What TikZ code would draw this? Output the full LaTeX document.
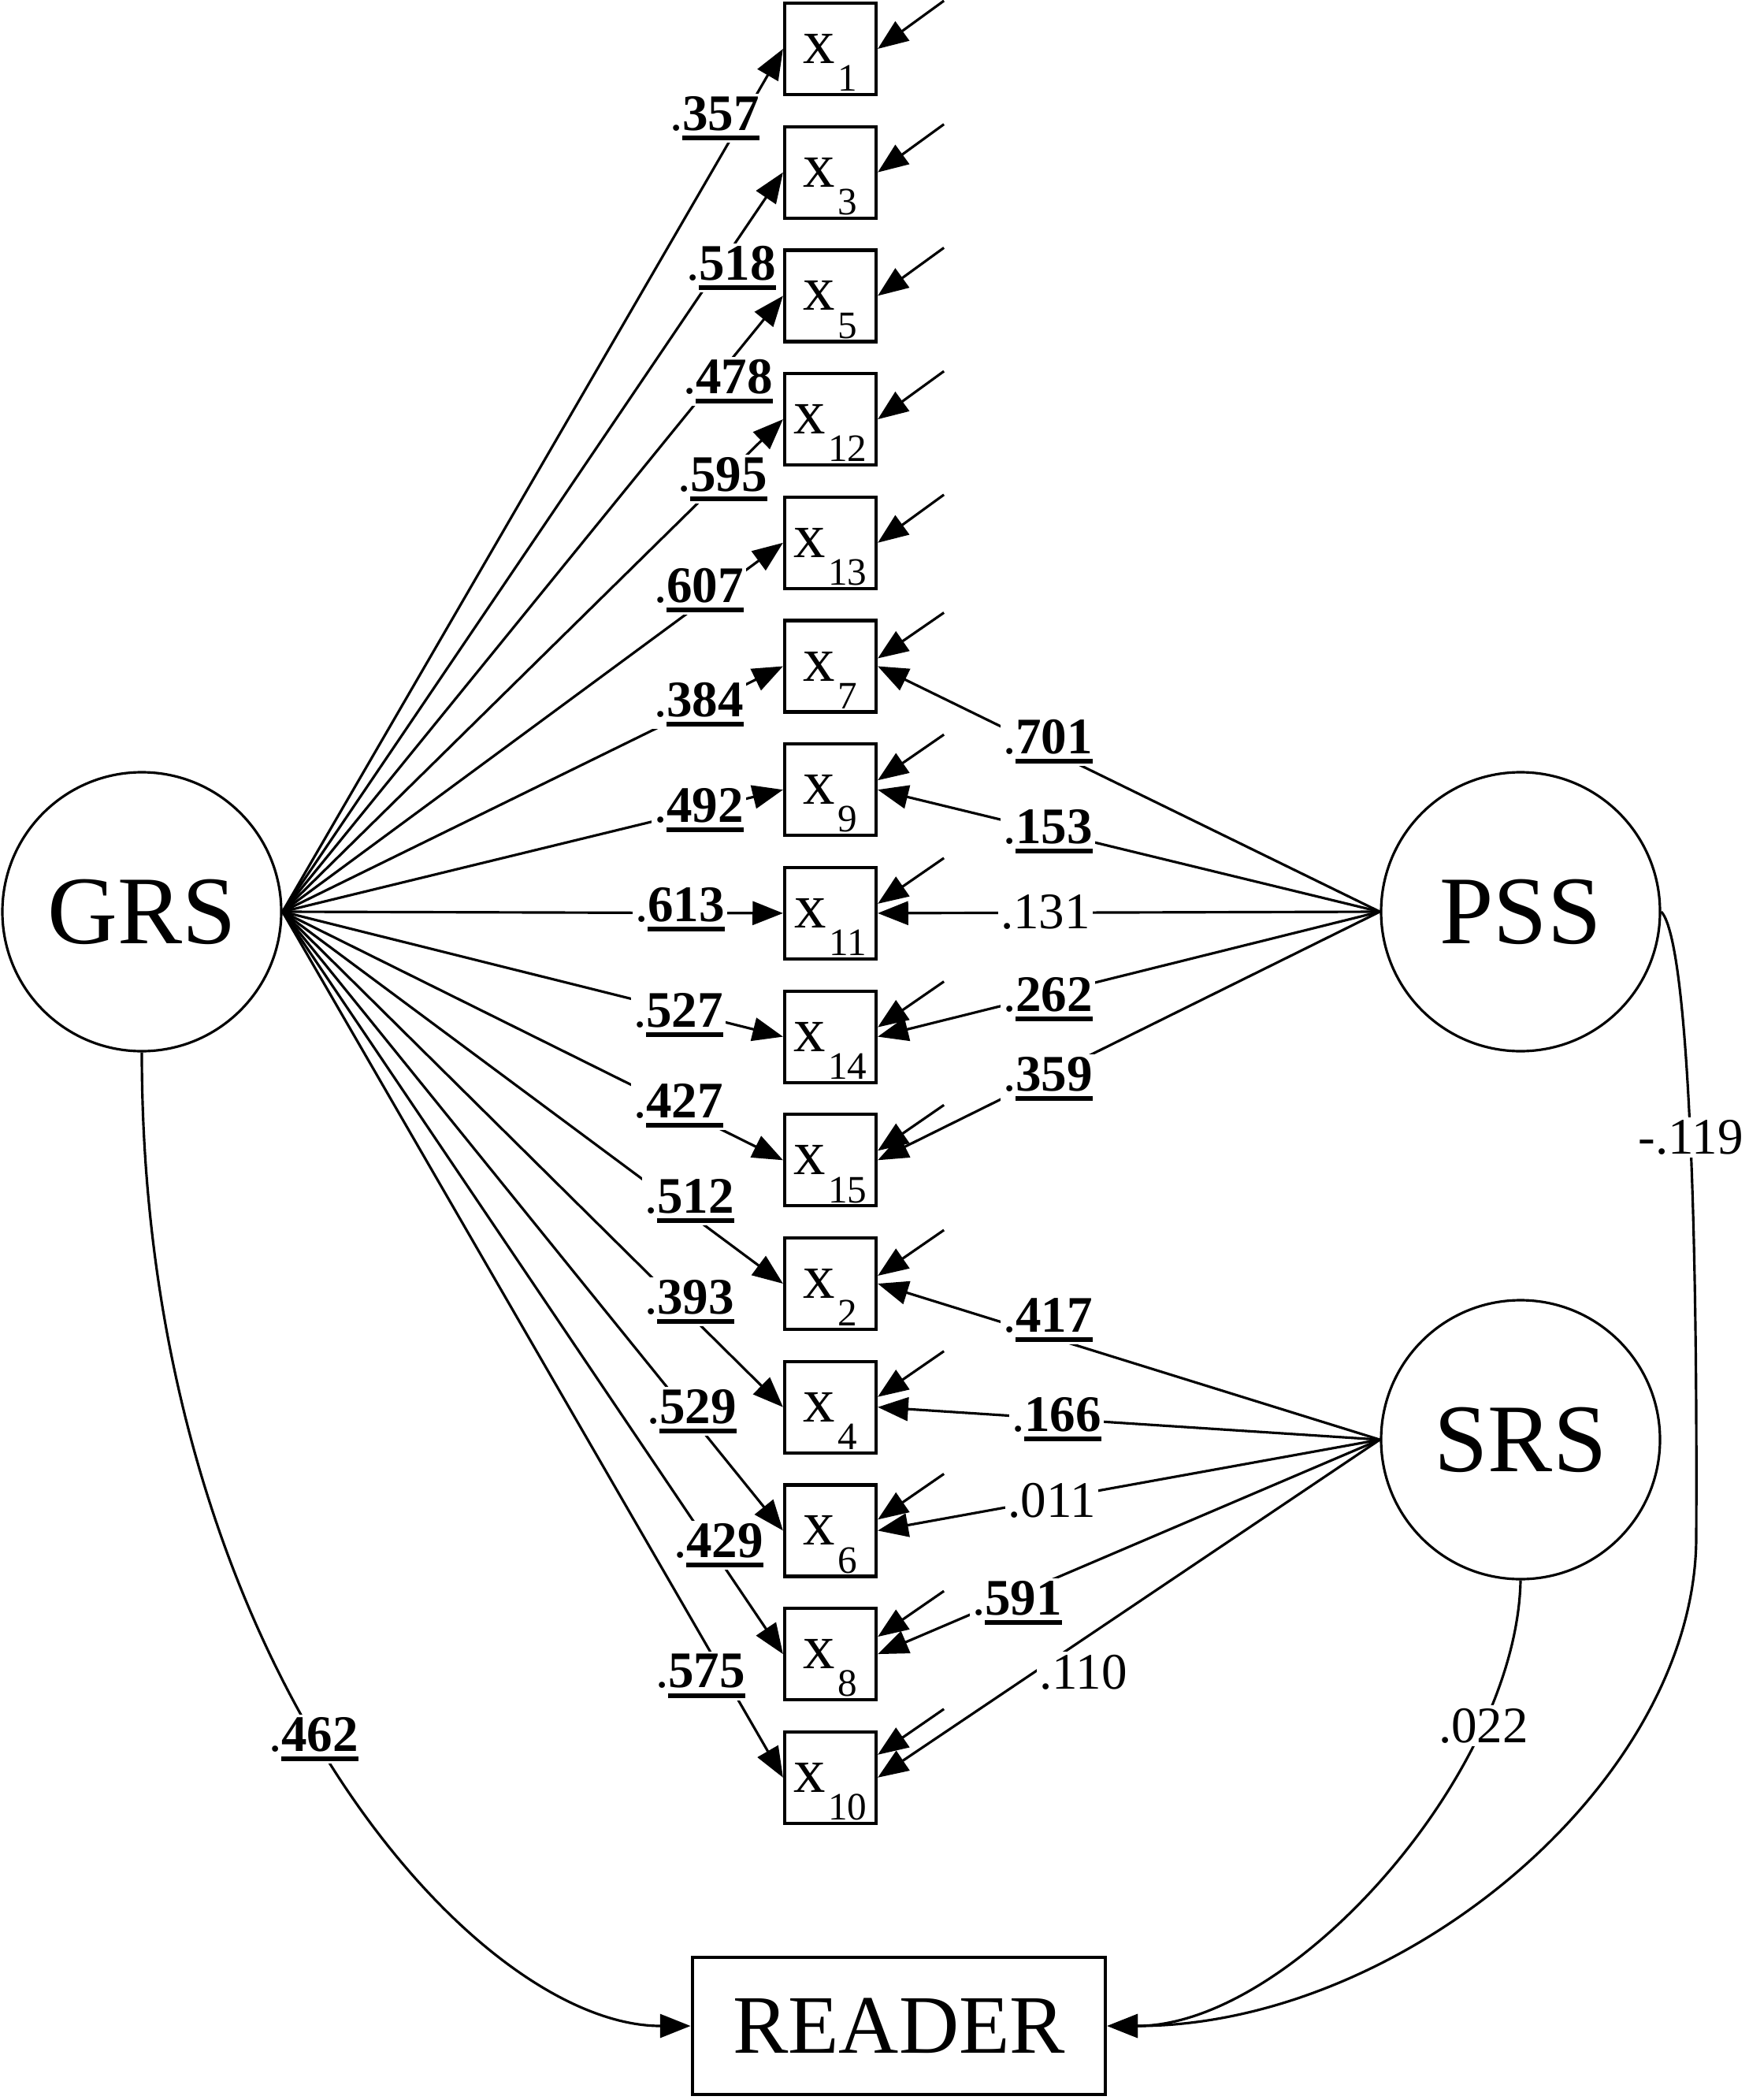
\documentclass[tikz,border=0pt]{standalone}
\usepackage{fontspec}
\setmainfont{Liberation Serif}
\usetikzlibrary{arrows.meta}

% indicator label with a low subscript
\newcommand{\ind}[1]{x\kern1pt\smash{\raisebox{-10pt}{\fontsize{14}{14}\selectfont #1}}}
% significant loading: bold digits with a heavy underline
\newcommand{\sig}[1]{.\setbox0=\hbox{\bfseries #1}\rlap{\rule[-3.6pt]{\wd0}{1.7pt}}\box0}

\tikzset{
  latent/.style={circle, draw, line width=0.9pt, minimum size=3.54cm, inner sep=0pt,
    font=\fontsize{35}{35}\selectfont},
  obs/.style={rectangle, draw, line width=1.2pt, minimum width=1.16cm, minimum height=1.16cm,
    inner sep=0pt, font=\fontsize{23}{23}\selectfont},
  outcome/.style={rectangle, draw, line width=1.4pt, minimum width=5.24cm, minimum height=1.74cm,
    font=\fontsize{30}{30}\selectfont},
  loading/.style={line width=0.9pt, -{Triangle[length=11pt,width=8.5pt]}},
  resid/.style={line width=0.9pt, -{Triangle[length=11pt,width=8.5pt]}},
  coef/.style={fill=white, inner sep=1pt, font=\fontsize{18.5}{18.5}\selectfont},
}

\begin{document}
\begin{tikzpicture}
  \useasboundingbox (0, 0) rectangle (22.19, -26.65);

  % factors and outcome
  \node[latent] (GRS) at (1.80, -11.57) {GRS};
  \node[latent] (PSS) at (19.30, -11.57) {PSS};
  \node[latent] (SRS) at (19.30, -18.27) {SRS};
  \node[outcome] (READER) at (11.41, -25.71) {READER};

  % indicators
  \node[obs] (x1) at (10.54, -0.620) {\ind{1}};
  \node[obs] (x3) at (10.54, -2.187) {\ind{3}};
  \node[obs] (x5) at (10.54, -3.754) {\ind{5}};
  \node[obs] (x12) at (10.54, -5.321) {\ind{12}};
  \node[obs] (x13) at (10.54, -6.888) {\ind{13}};
  \node[obs] (x7) at (10.54, -8.455) {\ind{7}};
  \node[obs] (x9) at (10.54, -10.022) {\ind{9}};
  \node[obs] (x11) at (10.54, -11.589) {\ind{11}};
  \node[obs] (x14) at (10.54, -13.156) {\ind{14}};
  \node[obs] (x15) at (10.54, -14.723) {\ind{15}};
  \node[obs] (x2) at (10.54, -16.290) {\ind{2}};
  \node[obs] (x4) at (10.54, -17.857) {\ind{4}};
  \node[obs] (x6) at (10.54, -19.424) {\ind{6}};
  \node[obs] (x8) at (10.54, -20.991) {\ind{8}};
  \node[obs] (x10) at (10.54, -22.558) {\ind{10}};

  % error terms
  \coordinate (e1) at ([shift={(0.84, 0.61)}]x1.east);
  \coordinate (e3) at ([shift={(0.84, 0.61)}]x3.east);
  \coordinate (e5) at ([shift={(0.84, 0.61)}]x5.east);
  \coordinate (e12) at ([shift={(0.84, 0.61)}]x12.east);
  \coordinate (e13) at ([shift={(0.84, 0.61)}]x13.east);
  \coordinate (e7) at ([shift={(0.84, 0.68)}]x7.east);
  \coordinate (e9) at ([shift={(0.84, 0.70)}]x9.east);
  \coordinate (e11) at ([shift={(0.84, 0.70)}]x11.east);
  \coordinate (e14) at ([shift={(0.84, 0.70)}]x14.east);
  \coordinate (e15) at ([shift={(0.84, 0.70)}]x15.east);
  \coordinate (e2) at ([shift={(0.84, 0.68)}]x2.east);
  \coordinate (e4) at ([shift={(0.84, 0.71)}]x4.east);
  \coordinate (e6) at ([shift={(0.84, 0.72)}]x6.east);
  \coordinate (e8) at ([shift={(0.84, 0.80)}]x8.east);
  \coordinate (e10) at ([shift={(0.84, 0.87)}]x10.east);

  \draw[resid] (e1) -- (x1.east);
  \draw[resid] (e3) -- (x3.east);
  \draw[resid] (e5) -- (x5.east);
  \draw[resid] (e12) -- (x12.east);
  \draw[resid] (e13) -- (x13.east);
  \draw[resid] (e7) -- ([yshift=0.10cm]x7.east);
  \draw[resid] (e9) -- ([yshift=0.12cm]x9.east);
  \draw[resid] (e11) -- ([yshift=0.12cm]x11.east);
  \draw[resid] (e14) -- ([yshift=0.12cm]x14.east);
  \draw[resid] (e15) -- ([yshift=0.12cm]x15.east);
  \draw[resid] (e2) -- ([yshift=0.10cm]x2.east);
  \draw[resid] (e4) -- ([yshift=0.13cm]x4.east);
  \draw[resid] (e6) -- ([yshift=0.14cm]x6.east);
  \draw[resid] (e8) -- ([yshift=0.22cm]x8.east);
  \draw[resid] (e10) -- ([yshift=0.29cm]x10.east);

  % GRS loadings
  \draw[loading] (GRS.east) -- (x1.west);
  \draw[loading] (GRS.east) -- (x3.west);
  \draw[loading] (GRS.east) -- (x5.west);
  \draw[loading] (GRS.east) -- (x12.west);
  \draw[loading] (GRS.east) -- (x13.west);
  \draw[loading] (GRS.east) -- (x7.west);
  \draw[loading] (GRS.east) -- (x9.west);
  \draw[loading] (GRS.east) -- (x11.west);
  \draw[loading] (GRS.east) -- (x14.west);
  \draw[loading] (GRS.east) -- (x15.west);
  \draw[loading] (GRS.east) -- (x2.west);
  \draw[loading] (GRS.east) -- (x4.west);
  \draw[loading] (GRS.east) -- (x6.west);
  \draw[loading] (GRS.east) -- (x8.west);
  \draw[loading] (GRS.east) -- (x10.west);

  % PSS and SRS loadings
  \draw[loading] (PSS.west) -- (x7.east);
  \draw[loading] (PSS.west) -- (x9.east);
  \draw[loading] (PSS.west) -- (x11.east);
  \draw[loading] (PSS.west) -- (x14.east);
  \draw[loading] (PSS.west) -- (x15.east);

  \draw[loading] (SRS.west) -- (x2.east);
  \draw[loading] (SRS.west) -- (x4.east);
  \draw[loading] (SRS.west) -- (x6.east);
  \draw[loading] (SRS.west) -- (x8.east);
  \draw[loading] (SRS.west) -- (x10.east);

  % paths to READER
  \draw[loading] (GRS.south) .. controls (1.80, -21.0) and (6.0, -25.71) .. (READER.west);
  \draw[loading] (PSS.east) .. controls (21.40, -11.9) and (21.55, -15.0) .. (21.53, -19.5)
    .. controls (21.53, -22.6) and (17.8, -25.71) .. (READER.east);
  \draw[loading] (SRS.south) .. controls (19.25, -22.5) and (16.4, -25.71) .. (READER.east);

  % coefficients
  \node[coef] (c357) at (9.07, -1.50) {\sig{357}};
  \node[coef] (c518) at (9.28, -3.40) {\sig{518}};
  \node[coef] (c478) at (9.24, -4.84) {\sig{478}};
  \node[coef] (c595) at (9.17, -6.08) {\sig{595}};
  \node[coef] (c607) at (8.87, -7.49) {\sig{607}};
  \node[coef] (c384) at (8.87, -8.94) {\sig{384}};
  \node[coef] (c492) at (8.87, -10.28) {\sig{492}};
  \node[coef] (c613) at (8.63, -11.54) {\sig{613}};
  \node[coef] (c527) at (8.61, -12.88) {\sig{527}};
  \node[coef] (c427) at (8.61, -14.03) {\sig{427}};
  \node[coef] (c512) at (8.75, -15.24) {\sig{512}};
  \node[coef] (c393) at (8.75, -16.52) {\sig{393}};
  \node[coef] (c529) at (8.78, -17.91) {\sig{529}};
  \node[coef] (c429) at (9.12, -19.61) {\sig{429}};
  \node[coef] (c575) at (8.89, -21.27) {\sig{575}};
  \node[coef] (c462) at (3.98, -22.07) {\sig{462}};

  \node[coef] (c701) at (13.30, -9.41) {\sig{701}};
  \node[coef] (c153) at (13.30, -10.55) {\sig{153}};
  \node[coef] (c131) at (13.27, -11.57) {.131};
  \node[coef] (c262) at (13.30, -12.68) {\sig{262}};
  \node[coef] (c359) at (13.30, -13.69) {\sig{359}};
  \node[coef] (c417) at (13.30, -16.75) {\sig{417}};
  \node[coef] (c166) at (13.41, -18.01) {\sig{166}};
  \node[coef] (c011) at (13.35, -19.04) {.011};
  \node[coef] (c591) at (12.91, -20.34) {\sig{591}};
  \node[coef] (c110) at (13.75, -21.22) {.110};
  \node[coef] (c119) at (21.46, -14.43) {-.119};
  \node[coef] (c022) at (18.83, -21.90) {.022};
\end{tikzpicture}
\end{document}
